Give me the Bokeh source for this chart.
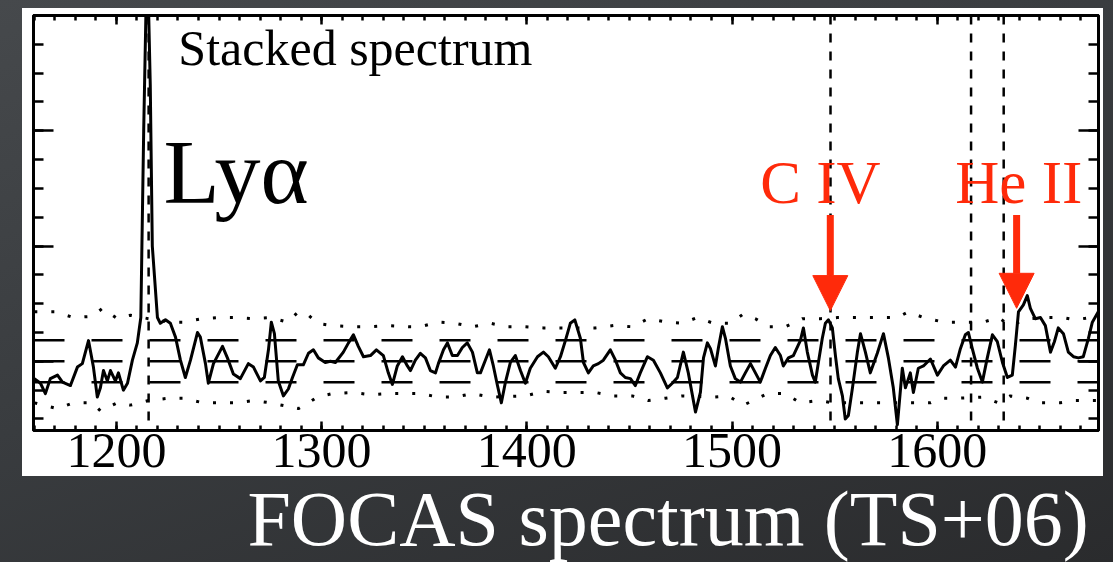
from bokeh.plotting import figure
from bokeh.layouts import column
from bokeh.models import (Range1d, Span, Label, Arrow, NormalHead,
                          LinearAxis, SingleIntervalTicker)
from bokeh.embed import file_html
from bokeh.resources import INLINE

# ---------------- data (rest-frame wavelength in Angstrom, arbitrary flux) ----------------
wave = [1160.0, 1163.0, 1165.4, 1167.8, 1171.3, 1173.7, 1177.6, 1181.0, 1183.4, 1186.4,
        1188.8, 1190.7, 1192.2, 1193.7, 1195.6, 1197.1, 1199.5, 1201.0, 1203.4, 1205.4,
        1207.8, 1210.2, 1211.9, 1213.3, 1215.0, 1216.5, 1217.5, 1220.0, 1221.4, 1223.9,
        1226.3, 1228.8, 1231.2, 1233.6, 1236.1, 1239.5, 1240.9, 1243.4, 1244.8, 1247.3,
        1251.7, 1254.1, 1257.0, 1260.4, 1264.3, 1266.8, 1270.2, 1272.1, 1274.1, 1275.5,
        1277.0, 1278.9, 1281.4, 1283.8, 1285.8, 1288.2, 1291.1, 1293.6, 1296.0, 1298.4,
        1301.8, 1304.3, 1306.7, 1310.6, 1313.1, 1315.5, 1317.9, 1320.4, 1323.8, 1326.7,
        1330.1, 1332.5, 1334.5, 1336.9, 1339.4, 1341.8, 1343.3, 1345.7, 1348.1, 1350.6,
        1353.0, 1355.5, 1356.9, 1359.4, 1361.3, 1363.7, 1366.2, 1368.6, 1371.0, 1373.5,
        1375.9, 1377.4, 1379.8, 1381.8, 1383.7, 1385.7, 1387.6, 1389.6, 1392.0, 1394.4,
        1396.9, 1399.3, 1401.7, 1405.2, 1408.1, 1410.5, 1413.9, 1416.4, 1418.8, 1421.2,
        1423.4, 1426.1, 1427.6, 1430.0, 1432.4, 1434.9, 1437.3, 1440.7, 1443.2, 1445.6,
        1448.0, 1450.5, 1452.9, 1455.3, 1458.8, 1461.7, 1465.1, 1468.5, 1470.9, 1473.4,
        1476.3, 1478.7, 1482.2, 1484.6, 1486.1, 1488.0, 1489.5, 1491.9, 1493.4, 1495.3,
        1496.8, 1499.2, 1501.6, 1504.1, 1506.5, 1509.0, 1511.4, 1513.8, 1516.3, 1518.7,
        1521.1, 1523.6, 1525.0, 1527.5, 1529.9, 1533.3, 1534.8, 1536.7, 1539.2, 1540.6,
        1542.1, 1544.0, 1545.5, 1547.0, 1548.9, 1550.4, 1551.8, 1553.8, 1555.2, 1556.7,
        1558.7, 1561.1, 1562.6, 1565.0, 1567.4, 1570.8, 1573.8, 1576.2, 1578.6, 1580.6,
        1583.0, 1584.5, 1586.9, 1588.4, 1590.8, 1593.3, 1596.7, 1600.1, 1603.0, 1606.4,
        1608.9, 1611.3, 1613.7, 1615.2, 1617.1, 1619.6, 1622.0, 1624.4, 1626.9, 1629.3,
        1631.8, 1634.2, 1636.6, 1638.1, 1639.6, 1642.0, 1643.9, 1645.4, 1647.8, 1650.3,
        1652.7, 1655.2, 1657.1, 1659.0, 1661.5, 1663.9, 1666.4, 1668.8, 1671.2, 1673.7,
        1675.6, 1678.5]
flux = [-0.15, -0.19, -0.28, -0.15, -0.12, -0.18, -0.21, -0.05, -0.02, 0.18,
        -0.05, -0.31, -0.23, -0.08, -0.17, -0.08, -0.17, -0.10, -0.25, -0.19,
        0.01, 0.16, 0.38, 2.00, 3.60, 2.40, 1.00, 0.38, 0.33, 0.36,
        0.33, 0.21, 0.01, -0.14, 0.01, 0.25, 0.21, -0.02, -0.19, -0.02,
        0.13, 0.03, -0.11, -0.15, -0.02, -0.05, -0.17, -0.14, 0.10, 0.34,
        0.24, -0.17, -0.30, -0.24, -0.14, -0.03, -0.03, 0.07, 0.10, 0.03,
        -0.01, 0.00, -0.01, 0.08, 0.16, 0.23, 0.13, 0.04, 0.05, 0.10,
        0.05, -0.10, -0.20, -0.04, 0.04, -0.04, -0.08, 0.01, 0.07, 0.03,
        -0.08, -0.10, -0.02, 0.10, 0.16, 0.05, 0.05, 0.12, 0.16, 0.08,
        -0.10, -0.10, 0.01, 0.10, -0.04, -0.21, -0.36, -0.18, -0.01, 0.05,
        -0.08, -0.19, -0.06, 0.04, 0.08, 0.04, -0.06, 0.04, 0.18, 0.33,
        0.36, 0.20, -0.01, -0.10, -0.04, -0.02, 0.01, 0.10, 0.01, -0.10,
        -0.14, -0.15, -0.21, -0.10, 0.04, 0.01, -0.10, -0.23, -0.19, -0.14,
        0.08, -0.10, -0.44, -0.27, 0.03, 0.16, 0.11, -0.04, 0.12, 0.30,
        0.20, -0.04, -0.15, -0.18, -0.10, -0.02, -0.10, -0.18, -0.06, 0.05,
        0.12, 0.05, -0.04, 0.03, 0.05, 0.18, 0.29, 0.08, -0.12, -0.18,
        -0.01, 0.20, 0.33, 0.36, 0.29, 0.05, -0.15, -0.30, -0.50, -0.47,
        -0.23, 0.08, 0.24, 0.08, -0.10, 0.07, 0.24, 0.03, -0.23, -0.55,
        -0.06, -0.23, -0.10, -0.27, -0.06, -0.04, 0.02, -0.12, -0.04, 0.01,
        -0.05, 0.11, 0.23, 0.25, 0.11, -0.06, -0.18, 0.03, 0.23, 0.17,
        -0.01, -0.14, -0.12, 0.14, 0.43, 0.49, 0.57, 0.46, 0.37, 0.38,
        0.31, 0.08, 0.17, 0.29, 0.24, 0.08, 0.04, 0.03, 0.04, 0.20,
        0.34, 0.43]

# upper / lower noise envelopes (dotted)
env_up_wave = [1160.0, 1170.3, 1179.0, 1188.3, 1193.2, 1200.5, 1206.8, 1215.6, 1226.3, 1232.6,
               1241.9, 1250.7, 1259.0, 1266.8, 1275.0, 1283.3, 1288.7, 1293.6, 1297.9, 1305.3,
               1315.0, 1323.8, 1332.5, 1342.3, 1348.1, 1356.9, 1365.2, 1373.5, 1382.3, 1390.5,
               1399.3, 1408.1, 1417.3, 1433.4, 1442.2, 1451.4, 1459.2, 1468.5, 1475.8, 1483.1,
               1490.9, 1499.2, 1505.5, 1511.4, 1517.7, 1526.0, 1534.3, 1543.1, 1551.4, 1557.7,
               1565.0, 1573.3, 1580.6, 1585.9, 1593.3, 1603.0, 1610.3, 1622.5, 1629.8, 1635.6,
               1644.4, 1652.7, 1661.0, 1667.3, 1674.6, 1678.5]
env_up_flux = [0.43, 0.43, 0.38, 0.39, 0.46, 0.37, 0.40, 0.37, 0.34, 0.34,
               0.37, 0.38, 0.38, 0.37, 0.38, 0.34, 0.43, 0.40, 0.33, 0.31,
               0.30, 0.30, 0.31, 0.30, 0.30, 0.34, 0.33, 0.30, 0.33, 0.30,
               0.30, 0.29, 0.29, 0.29, 0.31, 0.30, 0.37, 0.34, 0.33, 0.38,
               0.33, 0.33, 0.41, 0.37, 0.30, 0.30, 0.37, 0.37, 0.38, 0.38,
               0.38, 0.38, 0.38, 0.43, 0.38, 0.34, 0.34, 0.34, 0.38, 0.31,
               0.37, 0.38, 0.38, 0.36, 0.38, 0.38]
env_lo_wave = [1160.0, 1171.2, 1179.0, 1188.3, 1192.2, 1200.5, 1206.8, 1215.6, 1225.3, 1232.6,
               1242.4, 1250.7, 1259.0, 1266.8, 1275.0, 1288.7, 1293.6, 1297.9, 1305.3, 1315.0,
               1323.8, 1332.5, 1341.8, 1348.1, 1356.9, 1365.2, 1373.5, 1382.3, 1399.3, 1408.1,
               1417.3, 1424.6, 1433.4, 1442.2, 1451.4, 1459.2, 1467.5, 1475.8, 1490.9, 1498.2,
               1505.5, 1510.4, 1517.2, 1526.0, 1533.3, 1542.1, 1549.4, 1565.0, 1573.3, 1580.6,
               1590.3, 1596.7, 1602.5, 1610.3, 1622.5, 1629.8, 1635.6, 1643.9, 1648.8, 1653.7,
               1660.0, 1667.3, 1674.6, 1678.5]
env_lo_flux = [-0.36, -0.41, -0.36, -0.36, -0.43, -0.36, -0.38, -0.34, -0.32, -0.32,
               -0.36, -0.36, -0.36, -0.34, -0.36, -0.41, -0.36, -0.31, -0.28, -0.27,
               -0.29, -0.28, -0.28, -0.28, -0.31, -0.31, -0.28, -0.31, -0.30, -0.26,
               -0.27, -0.27, -0.27, -0.30, -0.30, -0.34, -0.32, -0.30, -0.31, -0.30,
               -0.38, -0.34, -0.28, -0.28, -0.36, -0.34, -0.36, -0.36, -0.36, -0.36,
               -0.36, -0.36, -0.32, -0.32, -0.31, -0.36, -0.30, -0.32, -0.36, -0.36,
               -0.36, -0.34, -0.34, -0.34]

mean_and_sigma = [0.182, 0.0, -0.182]              # long-dashed reference levels
line_positions = [1215.7, 1548.0, 1616.5, 1632.4]  # short-dashed vertical markers

line_names = ["C IV", "He II"]
line_label_x = [1513.8, 1608.8]
arrow_x = [1547.9, 1638.7]
arrow_top = 1.27
arrow_tip = [0.44, 0.46]

x_ticks_interval = 100
y_ticks_interval = 1

BG_CSS = "linear-gradient(160deg, #46494c 0%, #393c3f 45%, #2a2b2d 100%)"
RED = "#ff2a0a"
SERIF = "Liberation Serif"

# ---------------- main graph (white panel 1081 x 468) ----------------
p = figure(width=1081, height=480, x_range=Range1d(1159.6, 1678.6), y_range=Range1d(-0.6, 3.0),
           output_backend="svg", toolbar_location=None)
p.margin = (8, 10, 0, 22)
p.min_border_left = 11
p.min_border_right = 5
p.min_border_top = 7
p.min_border_bottom = 58
p.border_fill_color = None
p.background_fill_color = "white"
p.styles = {"background": "linear-gradient(to bottom, #ffffff 0px, #ffffff 468px, "
                          "rgba(0,0,0,0) 468px)"}
p.outline_line_color = "black"
p.outline_line_width = 3
p.grid.visible = False


def style_axis(ax, tick_in, minor_in, labels):
    ax.axis_line_width = 3
    ax.axis_line_color = "black"
    ax.major_tick_in = tick_in
    ax.major_tick_out = 0
    ax.minor_tick_in = minor_in
    ax.minor_tick_out = 0
    ax.major_tick_line_width = 2.5
    ax.minor_tick_line_width = 2.5
    if labels:
        ax.major_label_text_font = SERIF
        ax.major_label_text_font_size = "50px"
        ax.major_label_text_color = "black"
        ax.major_label_standoff = 3
    else:
        ax.major_label_text_font_size = "1px"
        ax.major_label_text_color = None
        ax.major_label_standoff = 0


xb = p.xaxis[0]
xb.ticker = SingleIntervalTicker(interval=x_ticks_interval, num_minor_ticks=10)
style_axis(xb, 9, 5, True)
yl = p.yaxis[0]
yl.ticker = SingleIntervalTicker(interval=y_ticks_interval, num_minor_ticks=4)
style_axis(yl, 20, 10, False)

xt = LinearAxis(ticker=SingleIntervalTicker(interval=x_ticks_interval, num_minor_ticks=10))
style_axis(xt, 9, 5, False)
p.add_layout(xt, "above")
yr = LinearAxis(ticker=SingleIntervalTicker(interval=y_ticks_interval, num_minor_ticks=4))
style_axis(yr, 20, 10, False)
p.add_layout(yr, "right")

# reference levels
for lv in mean_and_sigma:
    p.add_layout(Span(location=lv, dimension="width", line_color="black",
                      line_width=2.5, line_dash="31 27"))
for lp in line_positions:
    p.add_layout(Span(location=lp, dimension="height", line_color="black",
                      line_width=2.5, line_dash="9 9"))

# envelopes
p.line(env_up_wave, env_up_flux, line_color="black", line_width=3, line_dash="3 14")
p.line(env_lo_wave, env_lo_flux, line_color="black", line_width=3, line_dash="3 14")

# spectrum
p.line(wave, flux, line_color="black", line_width=3, line_join="round")

# texts
p.add_layout(Label(x=1230.2, y=2.72, text="Stacked spectrum", text_font=SERIF,
                   text_font_size="50px", text_color="black", text_baseline="alphabetic"))
p.add_layout(Label(x=1222.9, y=1.64, text="Lyα", text_font=SERIF,
                   text_font_size="92px", text_color="black", text_baseline="alphabetic"))
for name, lx in zip(line_names, line_label_x):
    p.add_layout(Label(x=lx, y=1.552, text=name, text_font=SERIF, text_font_size="61px",
                       text_color=RED, text_baseline="alphabetic"))
for ax_, tip in zip(arrow_x, arrow_tip):
    p.add_layout(Arrow(end=NormalHead(size=35, fill_color=RED, line_color=RED, line_width=1),
                       x_start=ax_, y_start=arrow_top, x_end=ax_, y_end=tip,
                       line_color=RED, line_width=7))

# ---------------- caption strip (overlaps the graph's empty bottom edge) ----------------
t = figure(width=1113, height=94, x_range=Range1d(0, 1113), y_range=Range1d(0, 94),
           output_backend="svg", toolbar_location=None, x_axis_type=None, y_axis_type=None)
t.margin = (-20, 0, 0, 0)
t.min_border = 0
t.border_fill_color = None
t.background_fill_color = None
t.outline_line_color = None
t.grid.visible = False
t.add_layout(Label(x=1093, y=44, text="FOCAS spectrum (TS+06)", text_font=SERIF,
                   text_font_size="78px", text_color="white", text_align="right",
                   text_baseline="alphabetic"))

layout = column(p, t, spacing=0, styles={"background": BG_CSS})
open("out.html", "w").write(file_html(layout, INLINE))
